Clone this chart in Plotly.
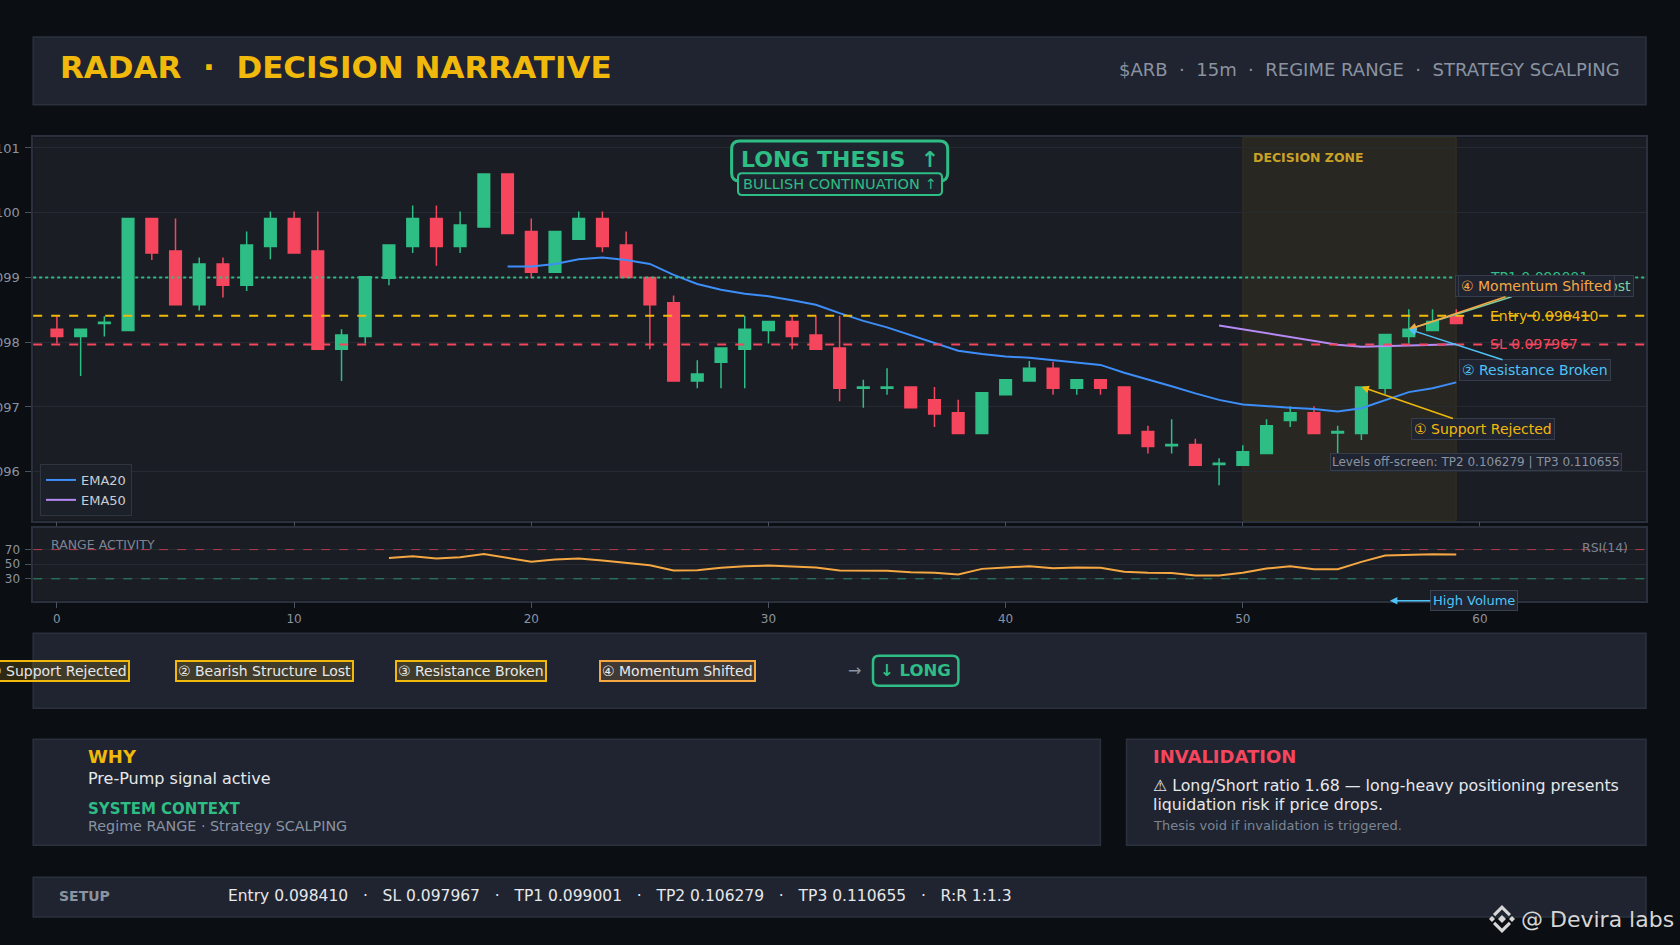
import plotly.graph_objects as go

# ---------------- data ----------------
candle_x = list(range(60))
opens = [0.09820, 0.09809, 0.09829, 0.09818, 0.09991, 0.09941, 0.09858, 0.09921, 0.09888, 0.09948,
         0.09991, 0.09941, 0.09789, 0.09809, 0.09899, 0.09948, 0.09991, 0.09948, 0.09978, 0.10060,
         0.09971, 0.09908, 0.09959, 0.09991, 0.09950, 0.09900, 0.09861, 0.09740, 0.09769, 0.09789,
         0.09818, 0.09832, 0.09811, 0.09791, 0.09729, 0.09729, 0.09731, 0.09711, 0.09691, 0.09659,
         0.09719, 0.09740, 0.09760, 0.09729, 0.09742, 0.09731, 0.09662, 0.09640, 0.09642, 0.09611,
         0.09610, 0.09628, 0.09679, 0.09691, 0.09660, 0.09659, 0.09729, 0.09809, 0.09818, 0.09840]
highs = [0.09840, 0.09820, 0.09840, 0.09991, 0.09991, 0.09991, 0.09931, 0.09931, 0.09971, 0.10002,
         0.10002, 0.10002, 0.09820, 0.09901, 0.09950, 0.10011, 0.10011, 0.10002, 0.10060, 0.10060,
         0.09991, 0.09971, 0.10002, 0.10002, 0.09971, 0.09900, 0.09872, 0.09772, 0.09791, 0.09841,
         0.09832, 0.09841, 0.09841, 0.09841, 0.09742, 0.09760, 0.09731, 0.09731, 0.09711, 0.09722,
         0.09742, 0.09771, 0.09770, 0.09742, 0.09742, 0.09731, 0.09671, 0.09681, 0.09651, 0.09621,
         0.09641, 0.09681, 0.09701, 0.09701, 0.09671, 0.09731, 0.09812, 0.09851, 0.09851, 0.09851]
lows = [0.09798, 0.09748, 0.09809, 0.09818, 0.09927, 0.09858, 0.09849, 0.09869, 0.09879, 0.09928,
        0.09938, 0.09789, 0.09740, 0.09798, 0.09888, 0.09938, 0.09918, 0.09938, 0.09978, 0.09968,
        0.09899, 0.09908, 0.09959, 0.09939, 0.09900, 0.09789, 0.09740, 0.09729, 0.09729, 0.09729,
        0.09798, 0.09789, 0.09789, 0.09709, 0.09699, 0.09719, 0.09699, 0.09669, 0.09659, 0.09659,
        0.09719, 0.09740, 0.09719, 0.09719, 0.09719, 0.09659, 0.09628, 0.09628, 0.09610, 0.09579,
        0.09610, 0.09628, 0.09669, 0.09659, 0.09621, 0.09649, 0.09720, 0.09798, 0.09818, 0.09829]
closes = [0.09809, 0.09820, 0.09831, 0.09991, 0.09938, 0.09858, 0.09921, 0.09888, 0.09950, 0.09991,
          0.09938, 0.09789, 0.09811, 0.09901, 0.09950, 0.09991, 0.09948, 0.09981, 0.10060, 0.09968,
          0.09908, 0.09971, 0.09991, 0.09948, 0.09900, 0.09858, 0.09740, 0.09751, 0.09791, 0.09820,
          0.09832, 0.09809, 0.09789, 0.09729, 0.09731, 0.09731, 0.09699, 0.09689, 0.09659, 0.09722,
          0.09742, 0.09760, 0.09729, 0.09742, 0.09729, 0.09659, 0.09639, 0.09642, 0.09610, 0.09613,
          0.09631, 0.09671, 0.09691, 0.09659, 0.09662, 0.09731, 0.09812, 0.09820, 0.09832, 0.09829]

ema20 = [None] * 19 + [0.09917, 0.09917, 0.09921, 0.09928, 0.09931, 0.09927, 0.09921, 0.09904, 0.09890,
                       0.09881, 0.09875, 0.09871, 0.09865, 0.09858, 0.09845, 0.09833, 0.09823, 0.09811,
                       0.09800, 0.09787, 0.09782, 0.09778, 0.09776, 0.09772, 0.09769, 0.09765, 0.09753,
                       0.09743, 0.09732, 0.09721, 0.09711, 0.09704, 0.09701, 0.09699, 0.09697, 0.09693,
                       0.09698, 0.09711, 0.09723, 0.09729, 0.09738]
ema50 = [None] * 49 + [0.09826, 0.09820, 0.09815, 0.09809, 0.09802, 0.09796, 0.09793, 0.09794, 0.09795,
                       0.09796, 0.09797]
rsi14 = [None] * 14 + [58.6, 61.0, 57.8, 59.6, 64.0, 58.6, 53.2, 56.4, 57.8, 55.0, 51.8, 48.6, 41.4, 41.8,
                       45.0, 47.2, 48.2, 46.8, 45.4, 41.4, 41.4, 41.0, 39.0, 38.2, 36.0, 43.6, 45.4, 47.2,
                       44.6, 45.4, 45.0, 39.6, 38.2, 37.8, 34.6, 34.6, 38.2, 44.0, 47.2, 43.2, 43.2, 53.2,
                       61.8, 62.8, 63.6, 63.2]

level_names = ["TP1", "Entry", "SL"]
level_values = [0.099001, 0.098410, 0.097967]
offscreen_names = ["TP2", "TP3"]
offscreen_values = [0.106279, 0.110655]
rr_text = "1:1.3"

price_ticks = [0.096, 0.097, 0.098, 0.099, 0.100, 0.101]
rsi_ticks = [30, 50, 70]
x_ticks = [0, 10, 20, 30, 40, 50, 60]

chip_labels = ["① Support Rejected", "② Bearish Structure Lost", "③ Resistance Broken", "④ Momentum Shifted"]

# ---------------- style / layout helpers ----------------
W, H = 1680, 945
BG = "#0b0e12"
PANEL = "#1f2430"
PANEL_LINE = "#2b313c"
PLOT_BG = "#1a1d24"
GREEN = "#2ebd85"
RED = "#f6465d"
GOLD = "#f0b90b"
ORANGE = "#f5a742"
CYAN = "#4fc3f7"
GRAY = "#8b93a1"
TEXT = "#e6e8eb"
FONT = "DejaVu Sans"


def px(x):
    return x / W


def py(y):
    return 1 - y / H


def rrect(x0, y0, x1, y1, r):
    pts = [("M", [(x0 + r, y0)]), ("L", [(x1 - r, y0)]), ("Q", [(x1, y0), (x1, y0 + r)]),
           ("L", [(x1, y1 - r)]), ("Q", [(x1, y1), (x1 - r, y1)]), ("L", [(x0 + r, y1)]),
           ("Q", [(x0, y1), (x0, y1 - r)]), ("L", [(x0, y0 + r)]), ("Q", [(x0, y0), (x0 + r, y0)])]
    s = ""
    for cmd, ps in pts:
        s += cmd + " ".join(f"{px(a):.6f},{py(b):.6f}" for a, b in ps) + " "
    return s + "Z"


def poly(points):
    return "M" + " L".join(f"{px(a):.6f},{py(b):.6f}" for a, b in points) + " Z"


X0, X1 = 33.2, 1646.0
fig = go.Figure()

fig.add_trace(go.Candlestick(
    x=candle_x, open=opens, high=highs, low=lows, close=closes,
    increasing=dict(line=dict(color=GREEN, width=1.5), fillcolor=GREEN),
    decreasing=dict(line=dict(color=RED, width=1.5), fillcolor=RED),
    whiskerwidth=0, showlegend=False, hoverinfo="skip", xaxis="x", yaxis="y"))
fig.add_trace(go.Scatter(x=candle_x, y=ema20, mode="lines", name="EMA20",
                         line=dict(color="#3d8ef8", width=2), xaxis="x", yaxis="y"))
fig.add_trace(go.Scatter(x=candle_x, y=ema50, mode="lines", name="EMA50",
                         line=dict(color="#b58af5", width=2), xaxis="x", yaxis="y"))
fig.add_trace(go.Scatter(x=candle_x, y=rsi14, mode="lines", name="RSI(14)", showlegend=False,
                         line=dict(color=ORANGE, width=2), xaxis="x2", yaxis="y2"))

axis_common = dict(showline=True, mirror=True, linecolor=PANEL_LINE, linewidth=1.5,
                   ticks="outside", ticklen=6, tickcolor="#4a5160", zeroline=False,
                   automargin=False)

fig.update_layout(
    width=W, height=H, autosize=False,
    margin=dict(l=0, r=0, t=0, b=0),
    paper_bgcolor=BG, plot_bgcolor=PLOT_BG,
    font=dict(family=FONT, color=GRAY, size=12),
    showlegend=True,
    legend=dict(x=px(40), y=py(516), xanchor="left", yanchor="bottom",
                bgcolor="#1c2029", bordercolor="#2f3541", borderwidth=1,
                font=dict(size=13, color="#c9ced6"), itemwidth=30, tracegroupgap=0),
    xaxis=dict(domain=[px(X0), px(X1)], range=[-1, 67], showgrid=False, tickvals=x_ticks,
               showticklabels=False, rangeslider=dict(visible=False), anchor="y", **axis_common),
    yaxis=dict(domain=[py(520.7), py(137.3)], range=[0.095244, 0.101165], tickvals=price_ticks,
               tickformat=".3f", gridcolor="#262a33", gridwidth=1, anchor="x", ticklabelstandoff=3,
               tickfont=dict(size=13, color=GRAY), **axis_common),
    xaxis2=dict(domain=[px(X0), px(X1)], range=[-1, 67], matches="x", showgrid=False,
                tickvals=x_ticks, anchor="y2", tickfont=dict(size=12, color=GRAY), **axis_common),
    yaxis2=dict(domain=[py(600.7), py(527.7)], range=[0, 100], tickvals=rsi_ticks, ticklabelstandoff=3,
                gridcolor="#262a33", anchor="x2", tickfont=dict(size=12, color=GRAY), **axis_common),
)

shapes = []
# panels
for (a, b, c, d) in [(X0, 37, X1, 104.7), (X0, 633.3, X1, 708.3), (X0, 739.3, 1100.4, 845.3),
                     (1126.5, 739.3, X1, 845.3), (X0, 877.3, X1, 917)]:
    shapes.append(dict(type="rect", xref="paper", yref="paper", x0=px(a), x1=px(c), y0=py(d), y1=py(b),
                       fillcolor=PANEL, line=dict(color=PANEL_LINE, width=1.5), layer="below"))
# decision zone
shapes.append(dict(type="rect", xref="x", yref="y domain", x0=50, x1=59, y0=0, y1=1,
                   fillcolor="rgba(240,185,11,0.07)", line=dict(color="rgba(240,185,11,0.10)", width=1),
                   layer="below"))
# level lines
level_styles = [(GREEN, "dot"), (GOLD, "dash"), (RED, "dash")]
for v, (col, dash) in zip(level_values, level_styles):
    shapes.append(dict(type="line", xref="x domain", yref="y", x0=0, x1=1, y0=v, y1=v,
                       line=dict(color=col, width=2, dash=dash), layer="above"))
# RSI bands
shapes.append(dict(type="line", xref="x2 domain", yref="y2", x0=0, x1=1, y0=70, y1=70,
                   line=dict(color="#b83a4d", width=1, dash="dash"), layer="above"))
shapes.append(dict(type="line", xref="x2 domain", yref="y2", x0=0, x1=1, y0=30, y1=30,
                   line=dict(color="#2a8f6a", width=1, dash="dash"), layer="above"))
# thesis boxes
shapes.append(dict(type="path", xref="paper", yref="paper", path=rrect(731.6, 141, 947.7, 181, 8),
                   fillcolor="#1e242e", line=dict(color=GREEN, width=3), layer="above"))
shapes.append(dict(type="path", xref="paper", yref="paper", path=rrect(738, 173.3, 942, 195, 4),
                   fillcolor="#1e242e", line=dict(color=GREEN, width=2), layer="above"))
# LONG chip
shapes.append(dict(type="path", xref="paper", yref="paper", path=rrect(873, 655.7, 958.4, 685.7, 6),
                   fillcolor=PANEL, line=dict(color=GREEN, width=2.5), layer="above"))
# logo
cx, cy = 1502, 919
logo_col = "#d6d6d6"
for pts in [
    [(cx - 4, cy), (cx, cy - 4), (cx + 4, cy), (cx, cy + 4)],
    [(cx - 13, cy), (cx - 10, cy - 3), (cx - 7, cy), (cx - 10, cy + 3)],
    [(cx + 7, cy), (cx + 10, cy - 3), (cx + 13, cy), (cx + 10, cy + 3)],
    [(cx - 9, cy - 5), (cx, cy - 14), (cx + 9, cy - 5), (cx + 6.8, cy - 2.8), (cx, cy - 9.6), (cx - 6.8, cy - 2.8)],
    [(cx - 9, cy + 5), (cx, cy + 14), (cx + 9, cy + 5), (cx + 6.8, cy + 2.8), (cx, cy + 9.6), (cx - 6.8, cy + 2.8)],
]:
    shapes.append(dict(type="path", xref="paper", yref="paper", path=poly(pts),
                       fillcolor=logo_col, line=dict(width=0), layer="above"))

anns = []


def pa(x, y, text, size, color, xanchor="left", bold=False, **kw):
    t = f"<b>{text}</b>" if bold else text
    d = dict(xref="paper", yref="paper", x=px(x), y=py(y), text=t, showarrow=False,
             xanchor=xanchor, yanchor="middle", font=dict(family=FONT, size=size, color=color))
    d.update(kw)
    anns.append(d)


NB = "\u00a0"
# header
pa(57.5, 67.3, f"RADAR{NB*2}·{NB*2}DECISION NARRATIVE", 31, GOLD, bold=True)
pa(1622, 69.3, f"$ARB{NB*2}·{NB*2}15m{NB*2}·{NB*2}REGIME RANGE{NB*2}·{NB*2}STRATEGY SCALPING", 18, GRAY,
   xanchor="right")
# thesis
pa(839.6, 159.5, f"LONG THESIS{NB*2}↑", 22, GREEN, xanchor="center", bold=True)
pa(840, 184.2, "BULLISH CONTINUATION ↑", 14.5, GREEN, xanchor="center")
# decision zone label
anns.append(dict(xref="x", yref="y domain", x=50, y=0.9468, xshift=8, text="<b>DECISION ZONE</b>",
                 showarrow=False, xanchor="left", yanchor="middle",
                 font=dict(family=FONT, size=12.5, color="#c9a227")))
# level labels
for n, v, (col, _) in zip(level_names, level_values, level_styles):
    anns.append(dict(xref="x", yref="y", x=60.33, y=v, text=f"{n} {v:.6f}", showarrow=False,
                     xanchor="left", yanchor="middle", font=dict(family=FONT, size=14, color=col)))


def arrow_ann(x, y, text, color, ax, ay):
    anns.append(dict(xref="x", yref="y", x=x, y=y, text=text, showarrow=True, ax=ax, ay=ay,
                     arrowhead=2, arrowsize=1, arrowwidth=1.5, arrowcolor=color, standoff=0,
                     bgcolor="#1f2430", bordercolor="#363d4a", borderwidth=1, borderpad=2,
                     font=dict(family=FONT, size=14, color=color)))


arrow_ann(57, closes[57], "③ Bearish Structure Lost", "#7fcf9f", 136, -43)
arrow_ann(57, closes[57], "④ Momentum Shifted", ORANGE, 128, -43)
arrow_ann(57, closes[57], "② Resistance Broken", CYAN, 126, 41)
arrow_ann(55, closes[55], "① Support Rejected", GOLD, 122, 42)

anns.append(dict(xref="x", yref="y", x=59.84, y=0.09615,
                 text=f"Levels off-screen: {offscreen_names[0]} {offscreen_values[0]:.6f} | "
                      f"{offscreen_names[1]} {offscreen_values[1]:.6f}",
                 showarrow=False, xanchor="center", yanchor="middle", bgcolor="#1f2430",
                 bordercolor="#363d4a", borderwidth=1, borderpad=1,
                 font=dict(family=FONT, size=12, color=GRAY)))
# RSI panel labels
pa(49, 544, "RANGE ACTIVITY", 12.5, "#7c8494")
pa(1629.8, 547.7, "RSI(14)", 12.5, "#7c8494", xanchor="right")
anns.append(dict(xref="x2", yref="y2 domain", x=56.2, y=0, text="High Volume", showarrow=True, ax=84, ay=0,
                 arrowhead=2, arrowsize=1, arrowwidth=1.5, arrowcolor=CYAN, standoff=0,
                 bgcolor="#1f2430", bordercolor="#3a4250", borderwidth=1, borderpad=2,
                 font=dict(family=FONT, size=13, color=CYAN)))
# narrative chips
chip_centers = [57.9, 264.3, 470.8, 677.1]
chip_cols = [GOLD, GOLD, GOLD, ORANGE]
chip_fill = ["rgba(240,185,11,0.16)"] * 3 + ["rgba(245,167,66,0.16)"]
for c, t, col, fc in zip(chip_centers, chip_labels, chip_cols, chip_fill):
    pa(c, 670.7, t, 14, TEXT, xanchor="center", bgcolor=fc, bordercolor=col, borderwidth=2, borderpad=1)
pa(854.5, 670.7, "→", 16, GRAY, xanchor="center")
pa(915.7, 670.7, "↓ LONG", 16.5, GREEN, xanchor="center", bold=True)
# WHY panel
pa(85.5, 756.7, "WHY", 18, GOLD, bold=True)
pa(85.5, 778.7, "Pre-Pump signal active", 16, TEXT)
pa(85.5, 809.3, "SYSTEM CONTEXT", 15, GREEN, bold=True)
pa(85.5, 826.3, "Regime RANGE · Strategy SCALPING", 14.3, GRAY)
# INVALIDATION panel
pa(1150.5, 756.7, "INVALIDATION", 18, RED, bold=True)
pa(1150.5, 785, "⚠ Long/Short ratio 1.68 — long-heavy positioning presents", 15.8, TEXT)
pa(1150.5, 804, "liquidation risk if price drops.", 15.8, TEXT)
pa(1150.5, 825.7, "Thesis void if invalidation is triggered.", 13, "#7c8494")
# SETUP
pa(57, 895.7, "SETUP", 14, GRAY, bold=True)
sep = f"{NB*3}·{NB*3}"
setup_parts = [f"{n} {v:.6f}" for n, v in zip(["Entry", "SL", "TP1"], [level_values[1], level_values[2], level_values[0]])]
setup_parts += [f"{n} {v:.6f}" for n, v in zip(offscreen_names, offscreen_values)]
setup_parts.append(f"R:R {rr_text}")
pa(226, 895.7, sep.join(setup_parts), 15.5, TEXT)
# watermark
pa(1519, 919, "@ Devira labs", 22, "#d6d6d6")

fig.update_layout(shapes=shapes, annotations=anns)

fig.write_html("out.html", include_plotlyjs=True, full_html=True,
               config={"displayModeBar": False},
               post_script="document.body.style.margin='0';document.body.style.background='#0b0e12';"
                           "document.body.style.overflow='hidden';")
